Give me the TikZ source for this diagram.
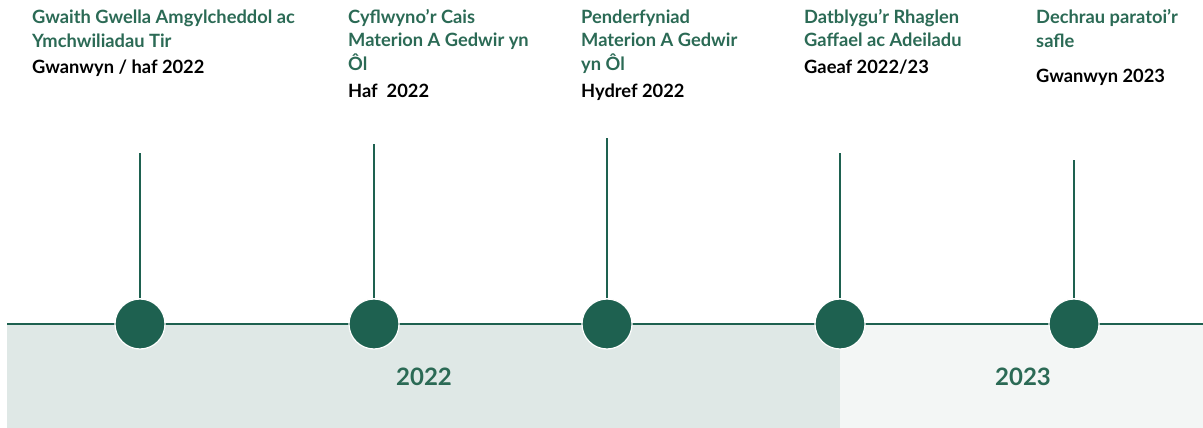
\documentclass[tikz,border=0pt]{standalone}
\usepackage{fontspec}
\setmainfont{Lato}
\definecolor{dkgreen}{HTML}{1E6150}
\definecolor{txgreen}{HTML}{2B6A55}
\definecolor{bandA}{HTML}{DFE8E6}
\definecolor{bandB}{HTML}{F3F6F5}
\tikzset{
  ttl/.style={anchor=base west, inner sep=0pt, text=txgreen, font=\fontsize{18.3}{24}\selectfont\bfseries, align=left},
  dte/.style={anchor=base west, inner sep=0pt, text=black, font=\fontsize{18.3}{24}\selectfont\bfseries},
  yr/.style={anchor=base, inner sep=0pt, text=txgreen, font=\fontsize{24}{28}\selectfont\bfseries},
  dot/.style={circle, fill=dkgreen, draw=white, line width=1.2pt, minimum size=50pt, inner sep=0pt},
  stem/.style={draw=dkgreen, line width=1.6pt},
  axis/.style={draw=dkgreen, line width=2.2pt}
}
\begin{document}
\begin{tikzpicture}[x=1pt,y=-1pt]
\useasboundingbox (0,0) rectangle (1203,428);
% bands
\fill[bandA] (7,324) rectangle (840,428);
\fill[bandB] (840,324) rectangle (1203,428);
% axis
\coordinate (L) at (7,324);
\coordinate (R) at (1203,324);
\draw[axis] (L) -- (R);
% stem tops
\coordinate (t1) at (140,153);
\coordinate (t2) at (374,144);
\coordinate (t3) at (607,138);
\coordinate (t4) at (840,153);
\coordinate (t5) at (1074,160);
% dots
\node[dot] (d1) at (140,324) {};
\node[dot] (d2) at (374,324) {};
\node[dot] (d3) at (607,324) {};
\node[dot] (d4) at (840,324) {};
\node[dot] (d5) at (1074,324) {};
\draw[stem] (t1) -- (d1.north);
\draw[stem] (t2) -- (d2.north);
\draw[stem] (t3) -- (d3.north);
\draw[stem] (t4) -- (d4.north);
\draw[stem] (t5) -- (d5.north);
% texts
\node[ttl] (a1) at (32,24) {Gwaith Gwella Amgylcheddol ac};
\node[ttl] (a2) at (32,48) {Ymchwiliadau Tir};
\node[dte] (a3) at (32,74) {Gwanwyn / haf 2022};
\node[ttl] (b1) at (348,24) {Cyflwyno’r Cais};
\node[ttl] (b2) at (348,47) {Materion A Gedwir yn};
\node[ttl] (b3) at (348,71) {Ôl};
\node[dte] (b4) at (348,97) {Haf\ \ 2022};
\node[ttl] (c1) at (581,24) {Penderfyniad};
\node[ttl] (c2) at (581,47) {Materion A Gedwir};
\node[ttl] (c3) at (581,71) {yn Ôl};
\node[dte] (c4) at (581,97) {Hydref 2022};
\node[ttl] (e1) at (804,24) {Datblygu’r Rhaglen};
\node[ttl] (e2) at (804,47) {Gaffael ac Adeiladu};
\node[dte] (e3) at (804,74) {Gaeaf 2022/23};
\node[ttl] (f1) at (1036,24) {Dechrau paratoi’r};
\node[ttl] (f2) at (1036,48) {safle};
\node[dte] (f3) at (1036,82) {Gwanwyn 2023};
% years
\node[yr] (y1) at (424,385) {2022};
\node[yr] (y2) at (1023,385) {2023};
\end{tikzpicture}
\end{document}
